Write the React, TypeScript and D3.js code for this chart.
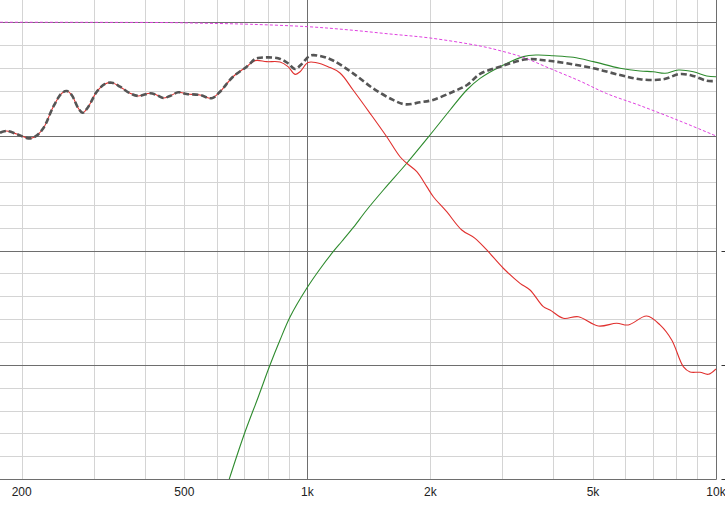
import React from 'react';
import * as d3 from 'd3';

// ---- data (frequency in Hz, level in dB) ----
const wooferFreq = [177, 183.9, 194.5, 207.7, 215.6, 225.9, 239, 250.6, 257.8, 265.1, 275.2, 282.1, 291.2, 305.3, 319.9, 332.2, 348.1, 368.3, 385.9, 412.2, 427.9, 444.2, 461.3, 483.4, 506.8, 546.3, 583.5, 611.4, 657.8, 710.6, 744.6, 795.7, 857.4, 897, 933, 959.7, 1004, 1054, 1124, 1202, 1294, 1424, 1564, 1686, 1751, 1853, 1960, 2034, 2193, 2387, 2573, 2748, 3017, 3315, 3507, 3780, 3925, 4231, 4604, 5153, 5715, 6101, 6767, 7295, 7792, 8318, 8639, 9138, 9576, 10000];
const wooferDb = [0.31, 0.46, 0.2, -0.18, -0.04, 0.7, 2.59, 3.76, 3.96, 3.61, 2.45, 2.06, 2.59, 3.9, 4.58, 4.69, 4.34, 3.76, 3.53, 3.76, 3.61, 3.35, 3.53, 3.85, 3.7, 3.61, 3.33, 3.9, 5.21, 6.09, 6.62, 6.53, 6.5, 6.09, 5.42, 5.65, 6.46, 6.44, 6.09, 5.54, 4.05, 2.01, -0.04, -1.79, -2.36, -3.1, -4.41, -5.29, -6.6, -8.2, -8.93, -9.95, -11.55, -12.87, -13.45, -14.91, -15.2, -15.93, -15.79, -16.6, -16.36, -16.51, -15.73, -16.51, -17.83, -20.16, -20.63, -20.65, -20.83, -20.36];

const tweeterFreq = [632.6, 697.3, 758.8, 810.3, 857.4, 907.1, 996.6, 1074, 1158, 1214, 1296, 1397, 1535, 1751, 1996, 2235, 2455, 2646, 2962, 3377, 3641, 3999, 4475, 5010, 5823, 6517, 7025, 7504, 8088, 8801, 9489, 10000];
const tweeterDb = [-30.87, -26.29, -22.79, -20.02, -17.83, -15.81, -13.3, -11.61, -10.08, -9.21, -7.98, -6.45, -4.7, -2.36, 0.11, 2.3, 4.05, 5.07, 6.09, 6.97, 7.11, 7.05, 6.91, 6.53, 5.95, 5.71, 5.65, 5.51, 5.8, 5.65, 5.28, 5.21];

// summed response above the crossover region (below it, it follows the woofer)
const sumStartIndex = 30; // woofer points used before the sum diverges
const sumFreq = [744.6, 757.5, 847.9, 897, 933, 968.9, 1015, 1074, 1156, 1294, 1448, 1621, 1734, 1887, 2030, 2273, 2460, 2646, 2962, 3442, 3853, 4313, 5010, 5823, 6517, 7432, 8166, 8801, 9489, 10000];
const sumDb = [6.76, 6.85, 6.83, 6.39, 5.89, 6.33, 7.05, 7.03, 6.63, 5.51, 4.2, 3.18, 2.8, 2.97, 3.18, 3.9, 4.49, 5.45, 6.09, 6.74, 6.62, 6.39, 5.95, 5.36, 4.99, 4.99, 5.45, 5.28, 4.86, 4.84];

const targetFreq = [177, 311, 453.6, 546, 725.4, 1002, 1272, 1593, 1996, 2646, 2962, 3372, 3925, 4648, 5400, 6517, 8166, 10000];
const targetDb = [9.98, 9.97, 9.95, 9.9, 9.8, 9.59, 9.3, 8.95, 8.6, 7.9, 7.49, 6.91, 5.93, 4.83, 3.74, 2.69, 1.33, 0.03];

const xTickValues = [200, 500, 1000, 2000, 5000, 10000];
const xTickLabels = ['200', '500', '1k', '2k', '5k', '10k'];
const minorFreqs = [200, 300, 400, 500, 600, 700, 800, 900, 2000, 3000, 4000, 5000, 6000, 7000, 8000, 9000];
const majorFreqs = [1000];
const majorDb = [10, 0, -10, -20];
const minorDb = [8, 6, 4, 2, -2, -4, -6, -8, -12, -14, -16, -18, -22, -24, -26, -28];
const rightTickValues = [-10, -20, -30];

const W = 725;
const H = 510;
const PLOT_R = 716;
const PLOT_B = 479.1;

export default function App() {
  const x = d3.scaleLog().domain([177, 10000]).range([0, PLOT_R]);
  const y = d3.scaleLinear().domain([-30, 10]).range([PLOT_B, 22.0]);
  const line = d3
    .line<[number, number]>()
    .x((d) => x(d[0]))
    .y((d) => y(d[1]))
    .curve(d3.curveCatmullRom.alpha(0.5));

  const zip = (f: number[], v: number[]) => f.map((fi, i) => [fi, v[i]] as [number, number]);
  const woofer = zip(wooferFreq, wooferDb);
  const tweeter = zip(tweeterFreq, tweeterDb);
  const sum = woofer.slice(0, sumStartIndex).concat(zip(sumFreq, sumDb));
  const target = zip(targetFreq, targetDb);

  const px = (v: number) => Math.round(v) + 0.5;

  return (
    <svg
      width={W}
      height={H}
      viewBox={`0 0 ${W} ${H}`}
      style={{ position: 'fixed', left: 0, top: 0, background: '#fff', display: 'block' }}
      fontFamily="'Liberation Sans', Arial, sans-serif"
    >
      <defs>
        <clipPath id="plotClip">
          <rect x={0} y={0} width={PLOT_R} height={PLOT_B} />
        </clipPath>
      </defs>
      <rect x={0} y={0} width={W} height={H} fill="#fff" />
      {/* minor grid */}
      {minorFreqs.map((f) => (
        <line key={'vf' + f} x1={px(x(f))} x2={px(x(f))} y1={0} y2={PLOT_B} stroke="#d4d4d4" strokeWidth={1} />
      ))}
      {minorDb.map((v) => (
        <line key={'hm' + v} x1={0} x2={PLOT_R} y1={px(y(v))} y2={px(y(v))} stroke="#d4d4d4" strokeWidth={1} />
      ))}
      {/* major grid */}
      {majorFreqs.map((f) => (
        <line key={'vM' + f} x1={px(x(f))} x2={px(x(f))} y1={0} y2={PLOT_B} stroke="#6e6e6e" strokeWidth={1} />
      ))}
      {majorDb.map((v) => (
        <line key={'hM' + v} x1={0} x2={PLOT_R} y1={px(y(v))} y2={px(y(v))} stroke="#6e6e6e" strokeWidth={1} />
      ))}
      {/* axes frame */}
      <line x1={0} x2={px(PLOT_R)} y1={px(PLOT_B)} y2={px(PLOT_B)} stroke="#6e6e6e" strokeWidth={1} />
      <line x1={px(PLOT_R)} x2={px(PLOT_R)} y1={0} y2={px(PLOT_B)} stroke="#6e6e6e" strokeWidth={1} />

      {/* curves */}
      <g clipPath="url(#plotClip)" fill="none">
        <path d={line(tweeter) || ''} stroke="#2e8b2e" strokeWidth={1.1} />
        <path d={line(woofer) || ''} stroke="#e0302e" strokeWidth={1.1} />
        <path d={line(target) || ''} stroke="#e040e0" strokeWidth={1} strokeDasharray="3,2" />
        <path d={line(sum) || ''} stroke="#555555" strokeWidth={2.6} strokeDasharray="6,3" />
      </g>

      {/* x tick labels */}
      {xTickValues.map((f, i) => (
        <text key={'xt' + f} x={x(f)} y={496} textAnchor="middle" fontSize={12} fill="#222">
          {xTickLabels[i]}
        </text>
      ))}
      {/* right axis: only the leading minus signs of the labels are in view */}
      {rightTickValues.map((v) => (
        <line key={'yt' + v} x1={721.5} x2={725} y1={px(y(v))} y2={px(y(v))} stroke="#333" strokeWidth={1} />
      ))}
    </svg>
  );
}
